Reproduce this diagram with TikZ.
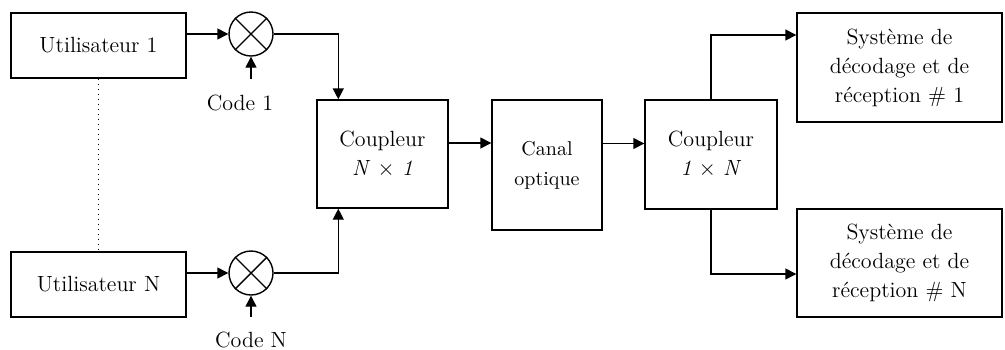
\documentclass[tikz,border=0pt]{standalone}
\usetikzlibrary{arrows.meta,positioning}
\begin{document}
\begin{tikzpicture}[
      x=0.5pt, y=-0.5pt,
      font=\fontsize{11}{14.5}\selectfont,
      bloc/.style={draw, line width=0.7pt, inner sep=0pt, align=center},
      melange/.style={draw, circle, line width=0.7pt, minimum size=22pt, inner sep=0pt},
      sig/.style={line width=0.7pt, -{Triangle[length=5.5pt,width=5.5pt]}},
    ]
    \useasboundingbox (0,0) rectangle (1005,349);
    % emetteurs
    \node[bloc, minimum width=87.5pt, minimum height=32.5pt] (util1) at (98.5,45.5) {Utilisateur 1};
    \node[bloc, minimum width=87.5pt, minimum height=32.5pt] (utilN) at (98.5,284.5) {Utilisateur N};
    \node[melange] (mel1) at (251,34) {};
    \node[melange] (melN) at (251,273) {};
    \draw[line width=0.7pt] (mel1.north west) -- (mel1.south east) (mel1.north east) -- (mel1.south west);
    \draw[line width=0.7pt] (melN.north west) -- (melN.south east) (melN.north east) -- (melN.south west);
    \node (code1) at (240,103) {Code 1};
    \node (codeN) at (251,340) {Code N};
    \coordinate (code1in) at (251,79);
    \coordinate (codeNin) at (251,317);
    % coupleurs et canal
    \node[bloc, minimum width=65.5pt, minimum height=54pt] (coupl1) at (382.5,154) {Coupleur\\ \textit{N} $\times$ \textit{1}};
    \node[bloc, minimum width=55pt, minimum height=65pt, font=\fontsize{10}{15}\selectfont] (canal) at (547,165) {Canal\\ optique};
    \node[bloc, minimum width=66pt, minimum height=54.5pt] (coupl2) at (711,154.5) {Coupleur\\ \textit{1} $\times$ \textit{N}};
    % recepteurs
    \node[bloc, minimum width=102.5pt, minimum height=54.5pt] (sys1) at (899.5,67.5) {Système de\\ décodage et de\\ réception \# 1};
    \node[bloc, minimum width=102.5pt, minimum height=54pt] (sysN) at (899.5,263) {Système de\\ décodage et de\\ réception \# N};
    % liaisons
    \draw[line width=0.5pt, dotted] (util1.south) -- (utilN.north);
    \draw[sig] (util1.east |- mel1.west) -- (mel1.west);
    \draw[sig] (utilN.east |- melN.west) -- (melN.west);
    \draw[sig] (code1in) -- (mel1.south);
    \draw[sig] (codeNin) -- (melN.south);
    \draw[sig] (mel1.east) -| ([xshift=11pt]coupl1.north west);
    \draw[sig] (melN.east) -| ([xshift=11pt]coupl1.south west);
    \draw[sig] ([yshift=5.5pt]coupl1.east) -- ([yshift=5.5pt]coupl1.east -| canal.west);
    \draw[sig] ([yshift=5.5pt]canal.east |- coupl2.west) -- ([yshift=5.5pt]coupl2.west);
    \draw[sig] (coupl2.north) |- ([yshift=16.25pt]sys1.west);
    \draw[sig] (coupl2.south) |- ([yshift=-5.5pt]sysN.west);
\end{tikzpicture}
\end{document}
